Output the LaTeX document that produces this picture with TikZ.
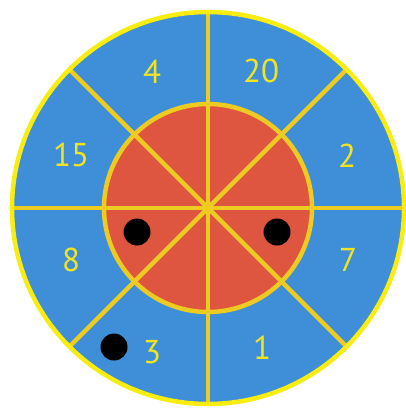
\documentclass[tikz,border=0pt]{standalone}
\usepackage{fontspec}
\setmainfont{PT Sans}
\usepackage{tikz}
\definecolor{Board}{HTML}{3F8FD8}
\definecolor{Bull}{HTML}{DE5540}
\definecolor{Wire}{HTML}{EDCB20}
\definecolor{Rim}{HTML}{F8EC10}
\definecolor{Score}{HTML}{F2E420}

\begin{document}
\begin{tikzpicture}[x=1pt,y=-1pt,
  every node/.style={font=\fontsize{33}{33}\selectfont,text=Score,inner sep=0pt},
  wire/.style={draw=Wire,line width=4.5pt},
  dart/.style={circle,fill=black,minimum size=27pt,inner sep=0pt}
]
\useasboundingbox (0,0) rectangle (405,412);
\coordinate (c) at (208,208);
\fill[Board] (c) circle (196);
\fill[Bull] (c) circle (104);
\draw[wire] (c) circle (104);
\foreach \a in {0,45,...,315}
  \draw[wire,line cap=round] (c) -- ++(\a:-196);
\draw[Rim,line width=4.5pt] (c) circle (196);
% scores
\node (s4)  at (152,72)  {4};
\node (s20) at (261,71)  {20};
\node (s15) at (71,155)  {15};
\node (s2)  at (347,156) {2};
\node (s8)  at (71,260)  {8};
\node (s7)  at (348,260) {7};
\node (s3)  at (152,352) {3};
\node (s1)  at (262,348) {1};
% darts
\node[dart] (d1) at (137,232) {};
\node[dart] (d2) at (277,232) {};
\node[dart] (d3) at (114,347) {};
\end{tikzpicture}
\end{document}
